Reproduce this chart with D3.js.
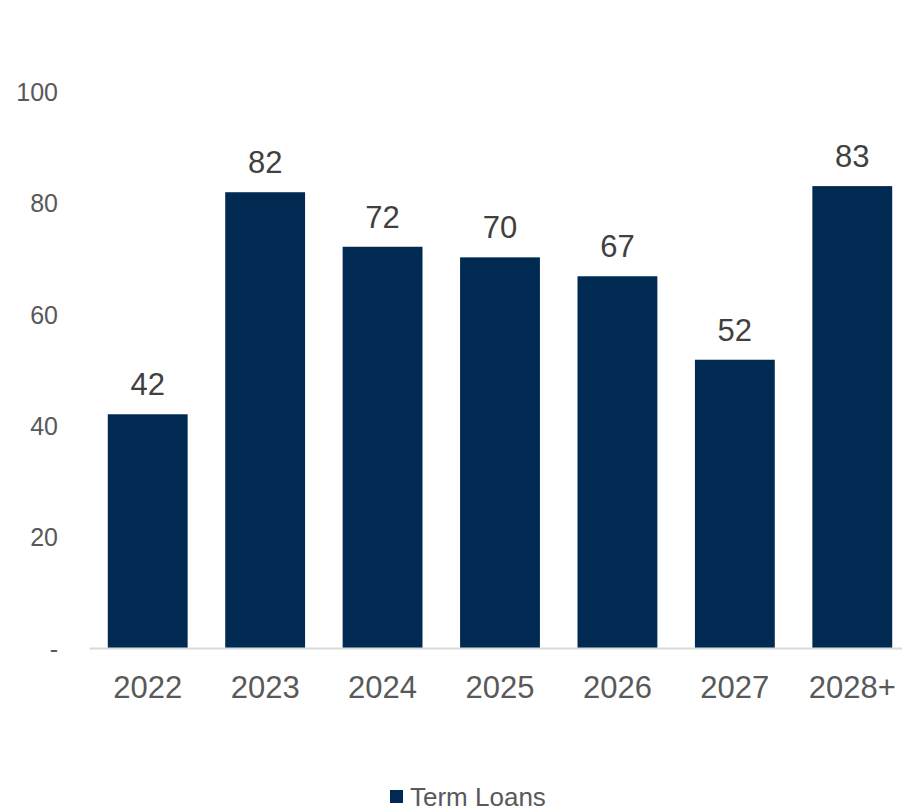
<!DOCTYPE html>
<html>
<head>
<meta charset="utf-8">
<script src="https://cdn.jsdelivr.net/npm/d3@7"></script>
<style>
  body { margin: 0; background: #fff; }
  svg { display: block; font-family: Arial, "Liberation Sans", sans-serif; }
</style>
</head>
<body>
<div id="chart"></div>
<script>
// dữ liệu biểu đồ
var categories = ["2022", "2023", "2024", "2025", "2026", "2027", "2028+"];
var termLoans = [42, 81.9, 72.1, 70.2, 66.8, 51.8, 83];
var yTicks = [0, 20, 40, 60, 80, 100];
var seriesName = "Term Loans";

var width = 902, height = 811;
var barColor = "#002a52";

var svg = d3.select("#chart").append("svg")
  .attr("width", width)
  .attr("height", height);

var x = d3.scaleBand()
  .domain(categories)
  .range([89, 911])
  .paddingInner(0.32)
  .paddingOuter(0.16);

var y = d3.scaleLinear()
  .domain([0, 100])
  .range([648, 91.5]);

// trục y (không có đường trục)
var yAxis = svg.append("g")
  .attr("transform", "translate(58,0)")
  .call(d3.axisLeft(y).tickValues(yTicks).tickSize(0).tickPadding(0)
    .tickFormat(function(d) { return d === 0 ? "-" : d; }));
yAxis.select(".domain").remove();
yAxis.selectAll("text")
  .attr("fill", "#595959")
  .style("font-size", "25px")
  .attr("dy", "0.36em");

// cột
svg.selectAll(".bar")
  .data(termLoans)
  .enter()
  .append("rect")
  .attr("class", "bar")
  .attr("x", function(d, i) { return x(categories[i]); })
  .attr("width", x.bandwidth())
  .attr("y", function(d) { return y(d); })
  .attr("height", function(d) { return y(0) - y(d); })
  .attr("fill", barColor);

// trục x
var xAxis = svg.append("g")
  .attr("transform", "translate(0," + y(0) + ")")
  .call(d3.axisBottom(x).tickSize(0).tickPadding(0));
xAxis.select(".domain")
  .attr("stroke", "#d9d9d9")
  .attr("stroke-width", 2);
xAxis.selectAll("text")
  .attr("fill", "#595959")
  .style("font-size", "31px")
  .attr("dy", "1.6em");

// nhãn giá trị
svg.selectAll(".label")
  .data(termLoans)
  .enter()
  .append("text")
  .attr("class", "label")
  .attr("x", function(d, i) { return x(categories[i]) + x.bandwidth() / 2; })
  .attr("y", function(d) { return y(d) - 19; })
  .attr("text-anchor", "middle")
  .attr("fill", "#404040")
  .style("font-size", "31px")
  .text(function(d) { return d3.format(".0f")(d); });

// chú thích
var legend = svg.append("g").attr("transform", "translate(390,790)");
legend.append("rect")
  .attr("width", 13).attr("height", 13)
  .attr("fill", barColor);
legend.append("text")
  .attr("x", 20).attr("y", 16)
  .attr("fill", "#595959")
  .style("font-size", "26px")
  .text(seriesName);
</script>
</body>
</html>
